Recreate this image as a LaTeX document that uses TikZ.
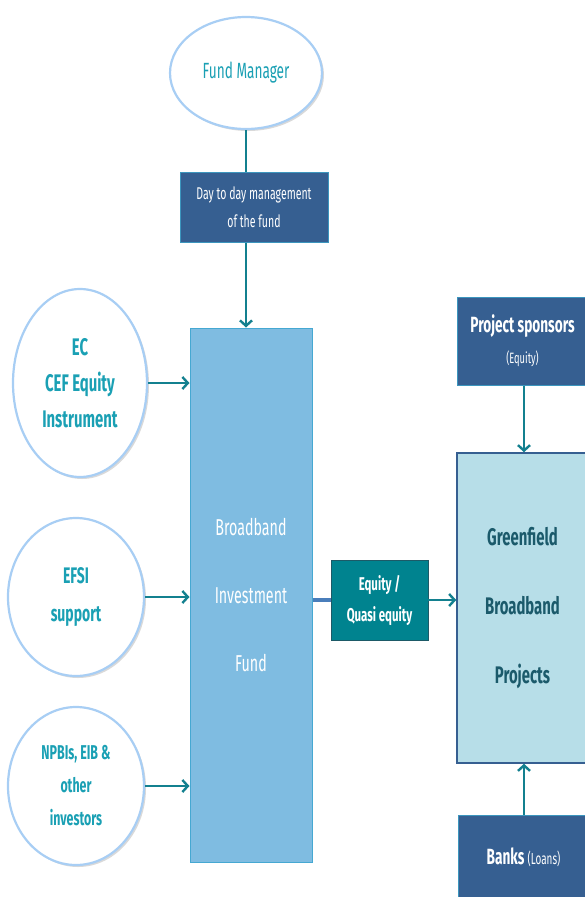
\documentclass[tikz,border=0pt]{standalone}
\usepackage{fontspec}
\setmainfont{Fira Sans}[FakeStretch=0.62]
\usetikzlibrary{arrows.meta,shapes.geometric,shadows}
\definecolor{darkb}{HTML}{365F91}
\definecolor{darkedge}{HTML}{3C96BE}
\definecolor{fundfill}{HTML}{7FBCE1}
\definecolor{fundedge}{HTML}{45A8D2}
\definecolor{tealA}{HTML}{13808F}
\definecolor{eqfill}{HTML}{00838F}
\definecolor{eqedge}{HTML}{1D5A67}
\definecolor{projfill}{HTML}{B7DEE8}
\definecolor{projtext}{HTML}{1B5A6B}
\definecolor{circedge}{HTML}{A8CEF4}
\definecolor{circtext}{HTML}{1AA0B4}
\definecolor{linkblue}{HTML}{4A7EBB}
\tikzset{
  circ/.style={ellipse, draw=circedge, line width=2.2pt, fill=white, inner sep=0pt,
    drop shadow={shadow xshift=2pt, shadow yshift=-2pt, opacity=0.25, fill=black!60},
    text=circtext, align=center},
  darkbox/.style={rectangle, draw=darkedge, line width=1pt, fill=darkb, text=white, align=center, inner sep=0pt},
  fundbox/.style={rectangle, draw=fundedge, line width=1pt, fill=fundfill, text=white, align=center, inner sep=0pt},
  eqbox/.style={rectangle, draw=eqedge, line width=0.8pt, fill=eqfill, text=white, align=center, inner sep=0pt},
  projbox/.style={rectangle, draw=darkb, line width=1.5pt, fill=projfill, text=projtext, align=center, inner sep=0pt},
  link/.style={draw=tealA, line width=2.4pt},
  linkarrow/.style={link, -{Straight Barb[length=5.5pt,width=12pt,line width=2.4pt]}},
}
\begin{document}
\begin{tikzpicture}[x=1pt,y=-1pt]
\useasboundingbox (0,0) rectangle (585,897);
\clip (0,0) rectangle (585,897);
% top
\node[circ, minimum width=152pt, minimum height=112pt, font={\fontsize{22}{24}\selectfont}] (fm) at (246,73)
  {Fund Manager};
\node[darkbox, minimum width=148pt, minimum height=70pt, font={\fontsize{17}{28}\selectfont}] (dm) at (254,207)
  {Day to day management\\of the fund};
\node[fundbox, minimum width=122pt, minimum height=534pt, font={\fontsize{23}{68}\selectfont}] (fund) at (251,595)
  {Broadband\\Investment\\Fund};
% left sources
\node[circ, minimum width=134pt, minimum height=188pt, font={\fontsize{24}{36}\selectfont\bfseries}] (ec) at (80,383)
  {EC\\CEF Equity\\Instrument};
\node[circ, minimum width=136pt, minimum height=158pt, font={\fontsize{22.5}{38}\selectfont\bfseries}] (efsi) at (76,597)
  {EFSI\\support};
\node[circ, minimum width=136pt, minimum height=158pt, font={\fontsize{20}{33}\selectfont\bfseries}] (npbi) at (76,786)
  {NPBIs, EIB \&\\other\\investors};
% middle
\node[eqbox, minimum width=97pt, minimum height=80pt, font={\fontsize{18.5}{31}\selectfont\bfseries}] (eq) at (379.5,600)
  {Equity /\\Quasi equity};
% right
\node[projbox, minimum width=131pt, minimum height=310pt, font={\fontsize{24}{69}\selectfont\bfseries}] (proj) at (522.5,608)
  {Greenfield\\Broadband\\Projects};
\node[darkbox, minimum width=131pt, minimum height=88pt, font={\fontsize{22}{31}\selectfont\bfseries}] (spons) at (522.5,341)
  {Project sponsors\\{\mdseries\fontsize{15}{16}\selectfont (Equity)}};
\node[darkbox, minimum width=131pt, minimum height=85pt, font={\fontsize{22}{24}\selectfont\bfseries}] (banks) at (523.5,857.5)
  {Banks {\mdseries\fontsize{16}{18}\selectfont (Loans)}};
% connectors
\draw[link] (fm.south) -- (fm.south |- dm.north);
\draw[linkarrow] (fm.south |- dm.south) -- (fm.south |- fund.north);
\draw[linkarrow] (ec.east) -- (fund.west |- ec.east);
\draw[linkarrow] (efsi.east) -- (fund.west |- efsi.east);
\draw[linkarrow] (npbi.east) -- (fund.west |- npbi.east);
\draw[draw=linkblue, line width=4pt] (fund.east |- eq.west) -- (eq.west);
\draw[linkarrow] (eq.east) -- (proj.west |- eq.east);
\draw[linkarrow] (spons.south -| 524,0) -- (proj.north -| 524,0);
\draw[linkarrow] (banks.north -| 524,0) -- (proj.south -| 524,0);
\end{tikzpicture}
\end{document}
